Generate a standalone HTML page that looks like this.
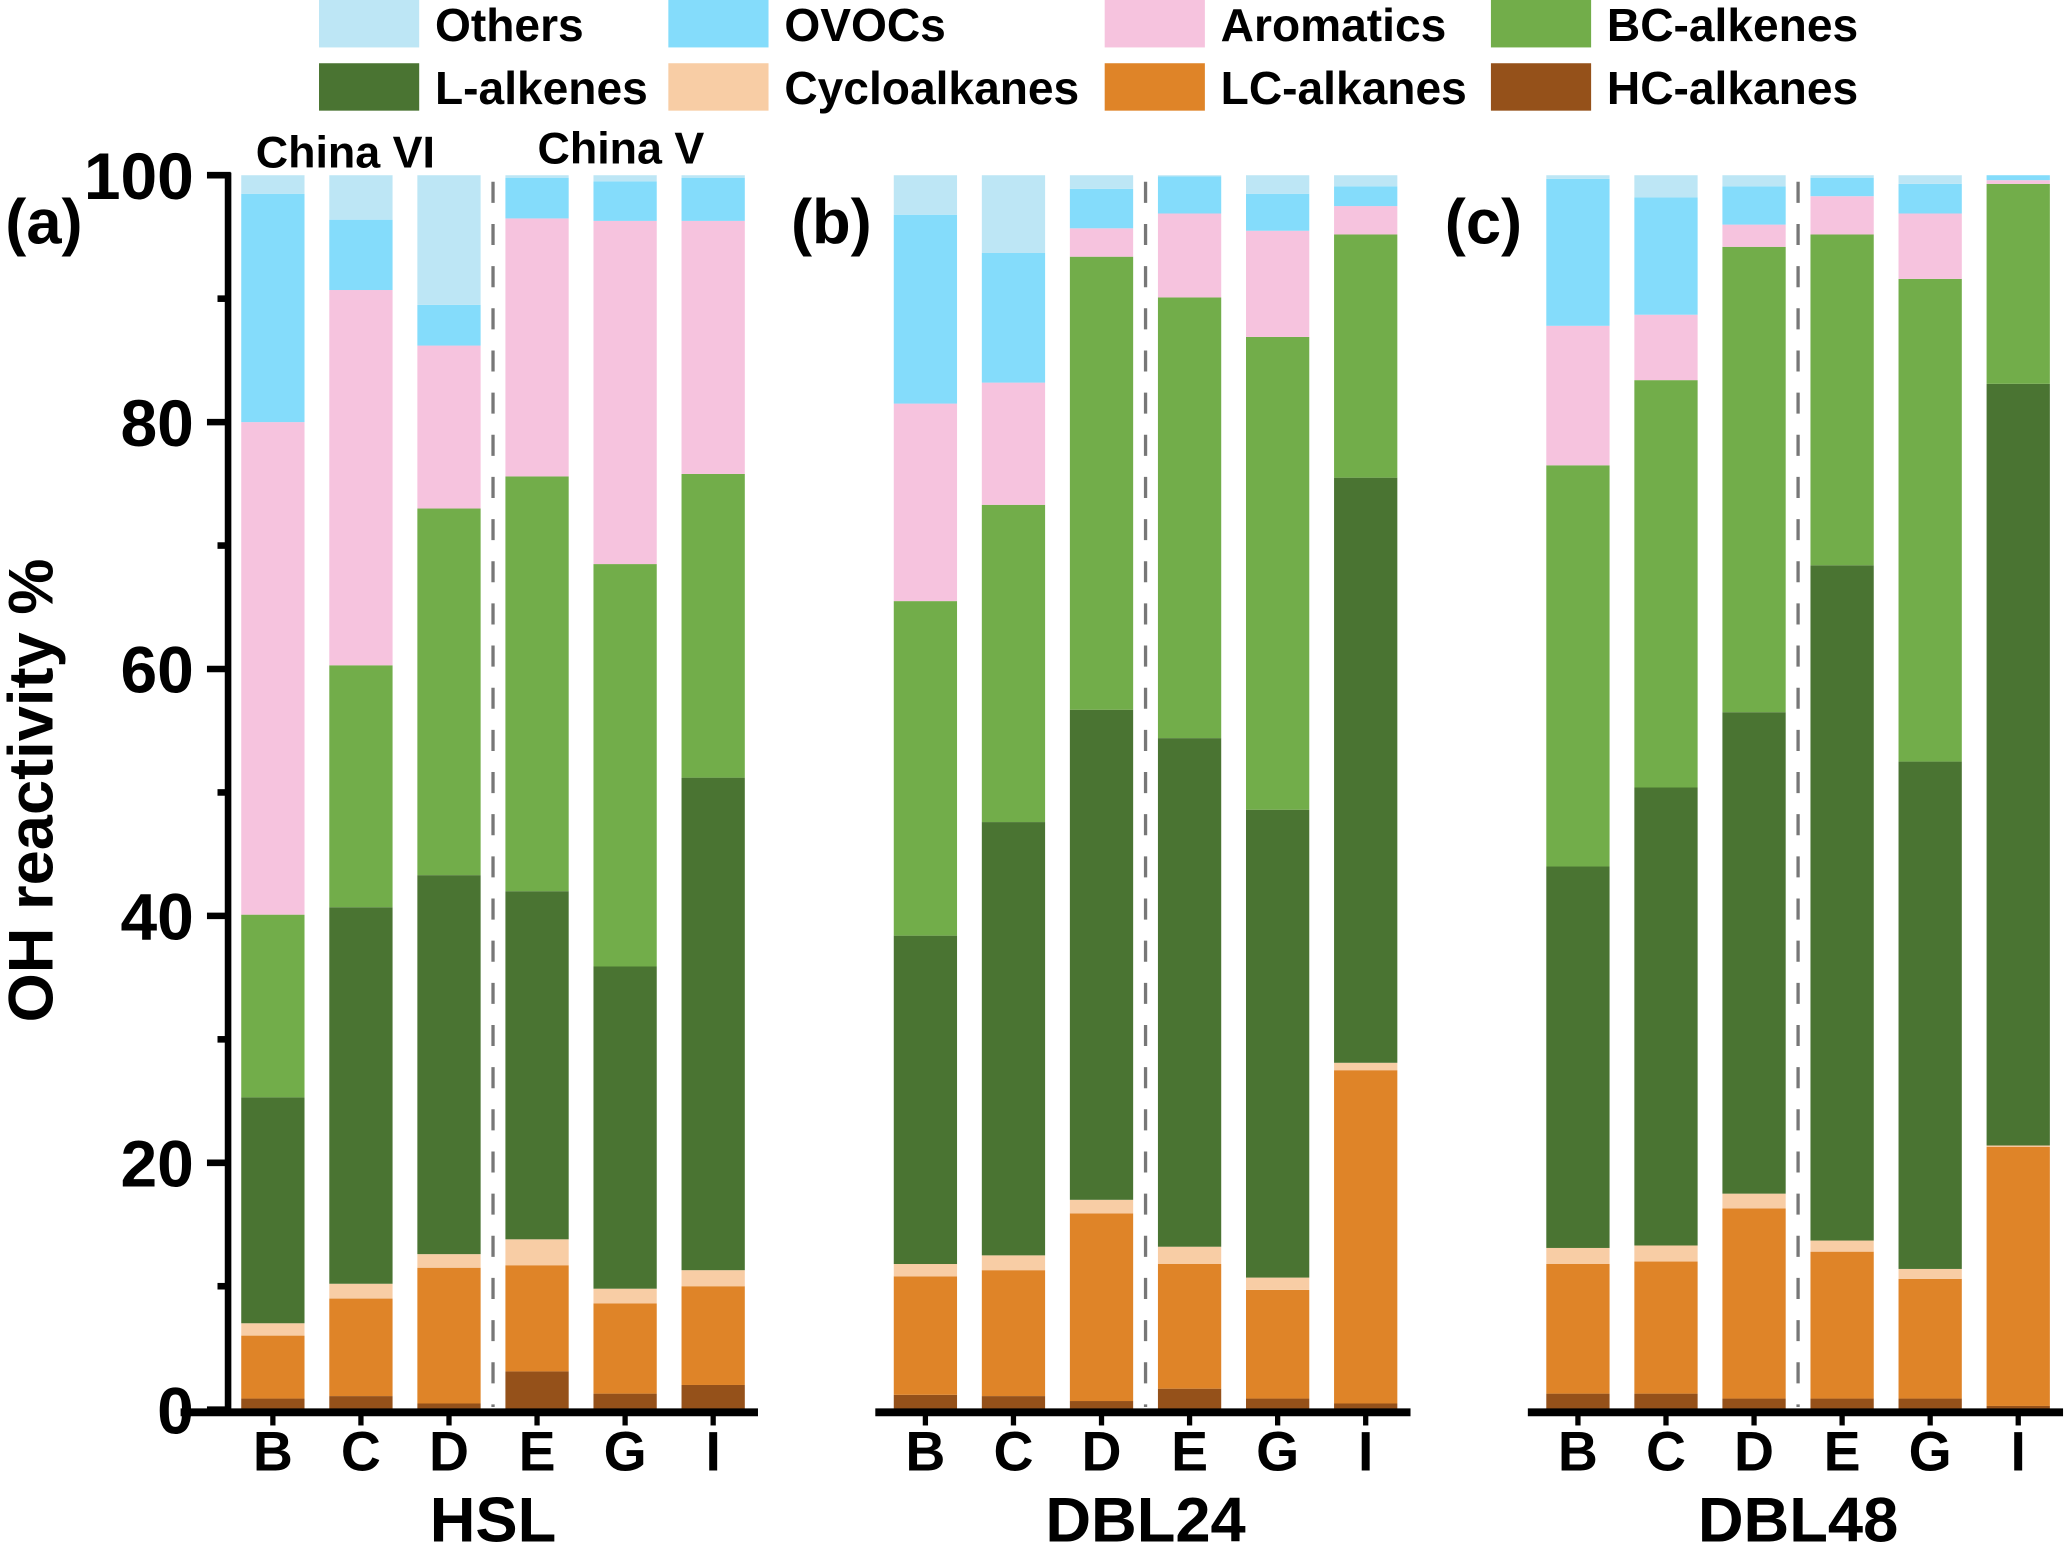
<!DOCTYPE html>
<html><head><meta charset="utf-8"><style>
html,body{margin:0;padding:0;background:#fff}
svg{display:block}
text{font-family:"Liberation Sans",Arial,sans-serif;font-weight:bold;fill:#000}
</style></head><body>
<svg id="chart" width="2067" height="1548" viewBox="0 0 1568 1175" preserveAspectRatio="none" xmlns="http://www.w3.org/2000/svg"></svg>
<script>
const categories = ["B","C","D","E","G","I"];
const panels = ["HSL","DBL24","DBL48"];
const panelLabels = ["(a)","(b)","(c)"];
const species = ["HC-alkanes","LC-alkanes","Cycloalkanes","L-alkenes","BC-alkenes","Aromatics","OVOCs","Others"];
const colors = ["#95511a","#df8428","#f8cda5","#4a7432","#72ad4a","#f6c3de","#84dcfb","#bde6f5"];
const yTicks = [0,20,40,60,80,100];
const cumHSL = [
 [0.9,6.0,7.0,25.3,40.1,80.0,98.5,100],
 [1.1,9.0,10.2,40.7,60.3,90.7,96.4,100],
 [0.5,11.5,12.6,43.3,73.0,86.2,89.5,100],
 [3.1,11.7,13.8,42.0,75.6,96.5,99.8,100],
 [1.3,8.6,9.8,35.9,68.5,96.3,99.5,100],
 [2.0,10.0,11.3,51.2,75.8,96.3,99.8,100]];
const cumDBL24 = [
 [1.2,10.8,11.8,38.4,65.5,81.5,96.8,100],
 [1.1,11.3,12.5,47.6,73.3,83.2,93.7,100],
 [0.7,15.9,17.0,56.7,93.4,95.7,98.9,100],
 [1.7,11.8,13.2,54.4,90.1,96.9,99.9,100],
 [0.9,9.7,10.7,48.6,86.9,95.5,98.5,100],
 [0.5,27.5,28.1,75.5,95.2,97.5,99.1,100]];
const cumDBL48 = [
 [1.3,11.8,13.1,44.0,76.5,87.8,99.7,100],
 [1.3,12.0,13.3,50.4,83.4,88.7,98.2,100],
 [0.9,16.3,17.5,56.5,94.2,96.0,99.1,100],
 [0.9,12.8,13.7,68.4,95.2,98.3,99.8,100],
 [0.9,10.6,11.4,52.5,91.6,96.9,99.3,100],
 [0.3,21.3,21.4,83.1,99.3,99.6,100,100]];
const allData = [cumHSL,cumDBL24,cumDBL48];

const NS="http://www.w3.org/2000/svg";
const svg=document.getElementById('chart');
function el(tag,attrs,parent){const e=document.createElementNS(NS,tag);for(const k in attrs)e.setAttribute(k,attrs[k]);(parent||svg).appendChild(e);return e;}
const y0=1070,y100=133;
function yScale(v){return y0-(y0-y100)*v/100;}
const panelX0=[183,678,1173];
const step=66.8, bw=48;
function xScale(p,i){return panelX0[p]+i*step;}

const legendRows=[[7,6,5,4],[3,2,1,0]];
const legX=[242,507,838,1131], legY=[0,48];
legendRows.forEach((row,r)=>row.forEach((sp,c)=>{
  const g=el('g',{});
  
  
  el('rect',{x:legX[c],y:legY[r],width:76,height:36,fill:colors[sp]},g);
  el('text',{x:legX[c]+88,y:legY[r]+31,'font-size':35},g).textContent=species[sp];
}));

allData.forEach((data,p)=>{
  const pg=el('g',{});
  
  
  data.forEach((cum,i)=>{
    let prev=0;
    cum.forEach((v,k)=>{
      if(v>prev){
        const r=el('rect',{x:xScale(p,i),y:yScale(v),width:bw,height:yScale(prev)-yScale(v),fill:colors[k]},pg);
        
        
      }
      prev=v;
    });
    el('line',{x1:xScale(p,i)+bw/2,x2:xScale(p,i)+bw/2,y1:1072,y2:1082,stroke:'#000','stroke-width':4},pg);
    const t=el('text',{x:xScale(p,i)+bw/2,y:1116,'font-size':42,'text-anchor':'middle'},pg);
    t.textContent=categories[i];
    
    
  });
  const dx=(xScale(p,2)+bw+xScale(p,3))/2;
  el('line',{x1:dx,x2:dx,y1:138,y2:1068,stroke:'#777','stroke-width':2.5,'stroke-dasharray':'16,16'},pg);
  const ax=el('line',{x1:p===0?137:panelX0[p]-14,x2:panelX0[p]+5*step+bw+10,y1:1072,y2:1072,stroke:'#000','stroke-width':6},pg);
  
  
  const tt=el('text',{x:(xScale(p,0)+xScale(p,5)+bw)/2,y:1170,'font-size':48,'text-anchor':'middle'},pg);
  tt.textContent=panels[p];
  
  
  const pl=el('text',{x:[4,600,1096][p],y:185,'font-size':48},pg);
  pl.textContent=panelLabels[p];
  
  
});

const ya=el('line',{x1:173,x2:173,y1:131,y2:1072,stroke:'#000','stroke-width':5});


yTicks.forEach(v=>{
  el('line',{x1:157,x2:175,y1:yScale(v),y2:yScale(v),stroke:'#000','stroke-width':5});
  const t=el('text',{x:147,y:yScale(v)+18,'font-size':50,'text-anchor':'end'});
  t.textContent=v;
  
  
});
for(let v=10;v<100;v+=20){el('line',{x1:165,x2:175,y1:yScale(v),y2:yScale(v),stroke:'#000','stroke-width':5});}
const yt=el('text',{x:0,y:0,'font-size':48,'text-anchor':'middle',transform:'translate(40,600) rotate(-90)'});
yt.textContent='OH reactivity %';


const c6=el('text',{x:262,y:127,'font-size':34,'text-anchor':'middle'});c6.textContent='China VI';


const c5=el('text',{x:471,y:124,'font-size':34,'text-anchor':'middle'});c5.textContent='China V';


</script>
</body></html>
